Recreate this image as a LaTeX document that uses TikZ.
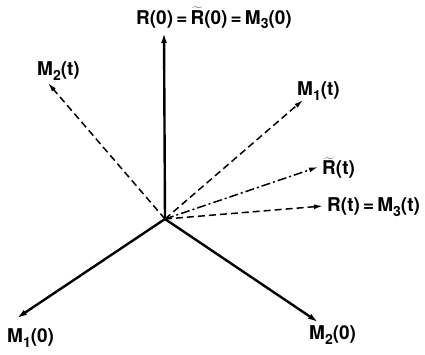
\documentclass[tikz,border=0pt]{standalone}
\usepackage{fontspec}
\setmainfont{TeX Gyre Heros}
\usepackage{tikz}
\usetikzlibrary{arrows.meta}
\newcommand{\ix}[1]{\raisebox{-.45ex}{\fontsize{14}{14}\selectfont #1}}
\newcommand{\tR}{$\widetilde{\mbox{\bfseries R}}$}
\tikzset{
  lbl/.style={inner sep=0pt,anchor=west,font=\fontsize{19}{21}\selectfont\bfseries},
  vec/.style={line width=2.4pt,-{Latex[length=10pt,width=6pt]}},
  vecd/.style={line width=1.5pt,dash pattern=on 7pt off 4pt,
               -{Latex[length=9pt,width=5pt]}},
  vecdd/.style={line width=1.5pt,dash pattern=on 9pt off 3pt on 2pt off 3pt,
               -{Latex[length=9pt,width=5pt]}},
}
\begin{document}
\begin{tikzpicture}[x=1pt,y=-1pt]
  \useasboundingbox (0,0) rectangle (425,354);
  \coordinate (o) at (165,219);
  % solid axes at t = 0
  \coordinate (r0) at (164,33);
  \coordinate (m10) at (17,318);
  \coordinate (m20) at (318,322);
  % dashed vectors at t
  \coordinate (m2t) at (48,83);
  \coordinate (m1t) at (303,100);
  \coordinate (rtt) at (318,167);
  \coordinate (rt) at (323,206);
  \node[lbl] (lr0) at (136,18) {R(0)\,=\,\tR(0)\,=\,M\ix{3}(0)};
  \node[lbl] (lm2t) at (37,71) {M\ix{2}(t)};
  \node[lbl] (lm1t) at (297,91) {M\ix{1}(t)};
  \node[lbl] (lrtt) at (322,168) {\tR(t)};
  \node[lbl] (lrt) at (327,207) {R(t)\,=\,M\ix{3}(t)};
  \node[lbl] (lm10) at (7,338) {M\ix{1}(0)};
  \node[lbl] (lm20) at (309,335) {M\ix{2}(0)};
  \foreach \p in {r0,m10,m20}
    \draw[vec] (o) -- (\p);
  \foreach \p in {m2t,m1t,rt}
    \draw[vecd] (o) -- (\p);
  \draw[vecdd] (o) -- (rtt);
\end{tikzpicture}
\end{document}
